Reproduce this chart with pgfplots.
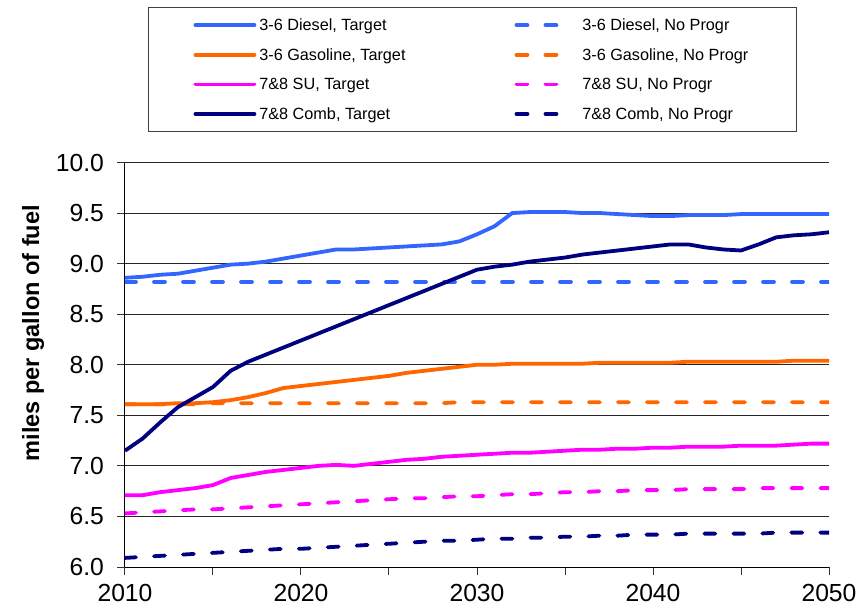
\documentclass[border=0pt]{standalone}
\usepackage{pgfplots}
\usepackage{pgfplotstable}
\pgfplotsset{compat=1.18}
\usepackage{fontspec}
\setmainfont{Liberation Sans}
\definecolor{cDiesel}{HTML}{3366FF}
\definecolor{cGas}{HTML}{FF6600}
\definecolor{cSU}{HTML}{FF00FF}
\definecolor{cComb}{HTML}{000080}
\pgfplotsset{
  dashleg/.style={line cap=round, dash pattern=on 11bp off 18bp,
    legend image code/.code={\draw[##1] (0bp,0bp) -- (45bp,0bp); \path (61bp,0bp);}},
}
\pgfplotstableread{
year DT DN GT GN ST SN CT CN
2010 8.86 8.82 7.61 7.61 6.71 6.53 7.15 6.09
2011 8.87 8.82 7.61 7.61 6.71 6.54 7.27 6.10
2012 8.89 8.82 7.61 7.61 6.74 6.55 7.43 6.11
2013 8.90 8.82 7.62 7.61 6.76 6.56 7.58 6.12
2014 8.93 8.82 7.62 7.61 6.78 6.57 7.68 6.13
2015 8.96 8.82 7.63 7.62 6.81 6.57 7.78 6.14
2016 8.99 8.82 7.65 7.62 6.88 6.58 7.94 6.15
2017 9.00 8.82 7.68 7.62 6.91 6.59 8.03 6.16
2018 9.02 8.82 7.72 7.62 6.94 6.60 8.10 6.17
2019 9.05 8.82 7.77 7.62 6.96 6.61 8.17 6.18
2020 9.08 8.82 7.79 7.62 6.98 6.62 8.24 6.18
2021 9.11 8.82 7.81 7.62 7.00 6.63 8.31 6.19
2022 9.14 8.82 7.83 7.62 7.01 6.64 8.38 6.20
2023 9.14 8.82 7.85 7.62 7.00 6.65 8.45 6.21
2024 9.15 8.82 7.87 7.62 7.02 6.66 8.52 6.22
2025 9.16 8.82 7.89 7.62 7.04 6.67 8.59 6.23
2026 9.17 8.82 7.92 7.62 7.06 6.68 8.66 6.24
2027 9.18 8.82 7.94 7.62 7.07 6.68 8.73 6.25
2028 9.19 8.82 7.96 7.62 7.09 6.69 8.80 6.26
2029 9.22 8.82 7.98 7.63 7.10 6.70 8.87 6.26
2030 9.29 8.82 8.00 7.63 7.11 6.70 8.94 6.27
2031 9.37 8.82 8.00 7.63 7.12 6.71 8.97 6.28
2032 9.50 8.82 8.01 7.63 7.13 6.72 8.99 6.28
2033 9.51 8.82 8.01 7.63 7.13 6.72 9.02 6.29
2034 9.51 8.82 8.01 7.63 7.14 6.73 9.04 6.29
2035 9.51 8.82 8.01 7.63 7.15 6.74 9.06 6.30
2036 9.50 8.82 8.01 7.63 7.16 6.74 9.09 6.30
2037 9.50 8.82 8.02 7.63 7.16 6.75 9.11 6.31
2038 9.49 8.82 8.02 7.63 7.17 6.75 9.13 6.31
2039 9.48 8.82 8.02 7.63 7.17 6.76 9.15 6.32
2040 9.47 8.82 8.02 7.63 7.18 6.76 9.17 6.32
2041 9.47 8.82 8.02 7.63 7.18 6.76 9.19 6.32
2042 9.48 8.82 8.03 7.63 7.19 6.77 9.19 6.33
2043 9.48 8.82 8.03 7.63 7.19 6.77 9.16 6.33
2044 9.48 8.82 8.03 7.63 7.19 6.77 9.14 6.33
2045 9.49 8.82 8.03 7.63 7.20 6.77 9.13 6.33
2046 9.49 8.82 8.03 7.63 7.20 6.78 9.19 6.33
2047 9.49 8.82 8.03 7.63 7.20 6.78 9.26 6.34
2048 9.49 8.82 8.04 7.63 7.21 6.78 9.28 6.34
2049 9.49 8.82 8.04 7.63 7.22 6.78 9.29 6.34
2050 9.49 8.82 8.04 7.63 7.22 6.78 9.31 6.34
}\datatable
\begin{document}
\begin{tikzpicture}
\begin{axis}[
  name=ax,
  scale only axis,
  width=704bp, height=404.5bp,
  xmin=2010, xmax=2050, ymin=6, ymax=10,
  axis lines*=left,
  axis line style={black, line width=1bp},
  tick align=outside,
  major tick length=7.5bp,
  tick style={black!80, line width=1bp},
  xtick={2010,2015,...,2050},
  xticklabels={2010,,2020,,2030,,2040,,2050},
  ytick={6,6.5,...,10},
  ymajorgrids,
  major grid style={black!85, line width=0.9bp},
  yticklabel style={/pgf/number format/fixed, /pgf/number format/fixed zerofill, /pgf/number format/precision=1, xshift=-10bp},
  /pgf/number format/assume math mode=true,
  ticklabel style={font=\fontsize{24.8}{28}\selectfont, text=black},
  xticklabel style={yshift=-6bp},
  ylabel={\bfseries miles per gallon of fuel},
  ylabel style={font=\fontsize{23.6}{28}\selectfont, at={(axis description cs:-0.1307,0.578)}, anchor=center},
  every axis plot/.append style={line width=3.8bp, line join=round},
  legend columns=2,
  legend cell align=left,
  legend style={
    at={(axis description cs:0.0327,1.3832)}, anchor=north west,
    draw=black!75, line width=1bp, fill=white,
    font=\fontsize{16.3}{19}\selectfont,
    inner xsep=45bp, inner ysep=7.5bp,
    row sep=10.5bp,
    nodes={inner xsep=3bp, inner ysep=3bp},
    /tikz/every even column/.append style={column sep=106bp},
  },
  legend image code/.code={\draw[#1, line cap=round] (0bp,0bp) -- (59bp,0bp);},
]
\addplot[cDiesel] table[x=year, y=DT] {\datatable};
\addlegendentry{3-6 Diesel, Target}
\addplot[cDiesel, dashleg] table[x=year, y=DN] {\datatable};
\addlegendentry{3-6 Diesel, No Progr}
\addplot[cGas] table[x=year, y=GT] {\datatable};
\addlegendentry{3-6 Gasoline, Target}
\addplot[cGas, dashleg] table[x=year, y=GN] {\datatable};
\addlegendentry{3-6 Gasoline, No Progr}
\addplot[cSU] table[x=year, y=ST] {\datatable};
\addlegendentry{7\&8 SU, Target}
\addplot[cSU, dashleg] table[x=year, y=SN] {\datatable};
\addlegendentry{7\&8 SU, No Progr}
\addplot[cComb] table[x=year, y=CT] {\datatable};
\addlegendentry{7\&8 Comb, Target}
\addplot[cComb, dashleg] table[x=year, y=CN] {\datatable};
\addlegendentry{7\&8 Comb, No Progr}
\end{axis}
\pgfresetboundingbox
\path[use as bounding box] ([shift={(-125bp,-44bp)}]ax.south west) rectangle ([shift={(28bp,162.5bp)}]ax.north east);
\end{tikzpicture}
\end{document}
